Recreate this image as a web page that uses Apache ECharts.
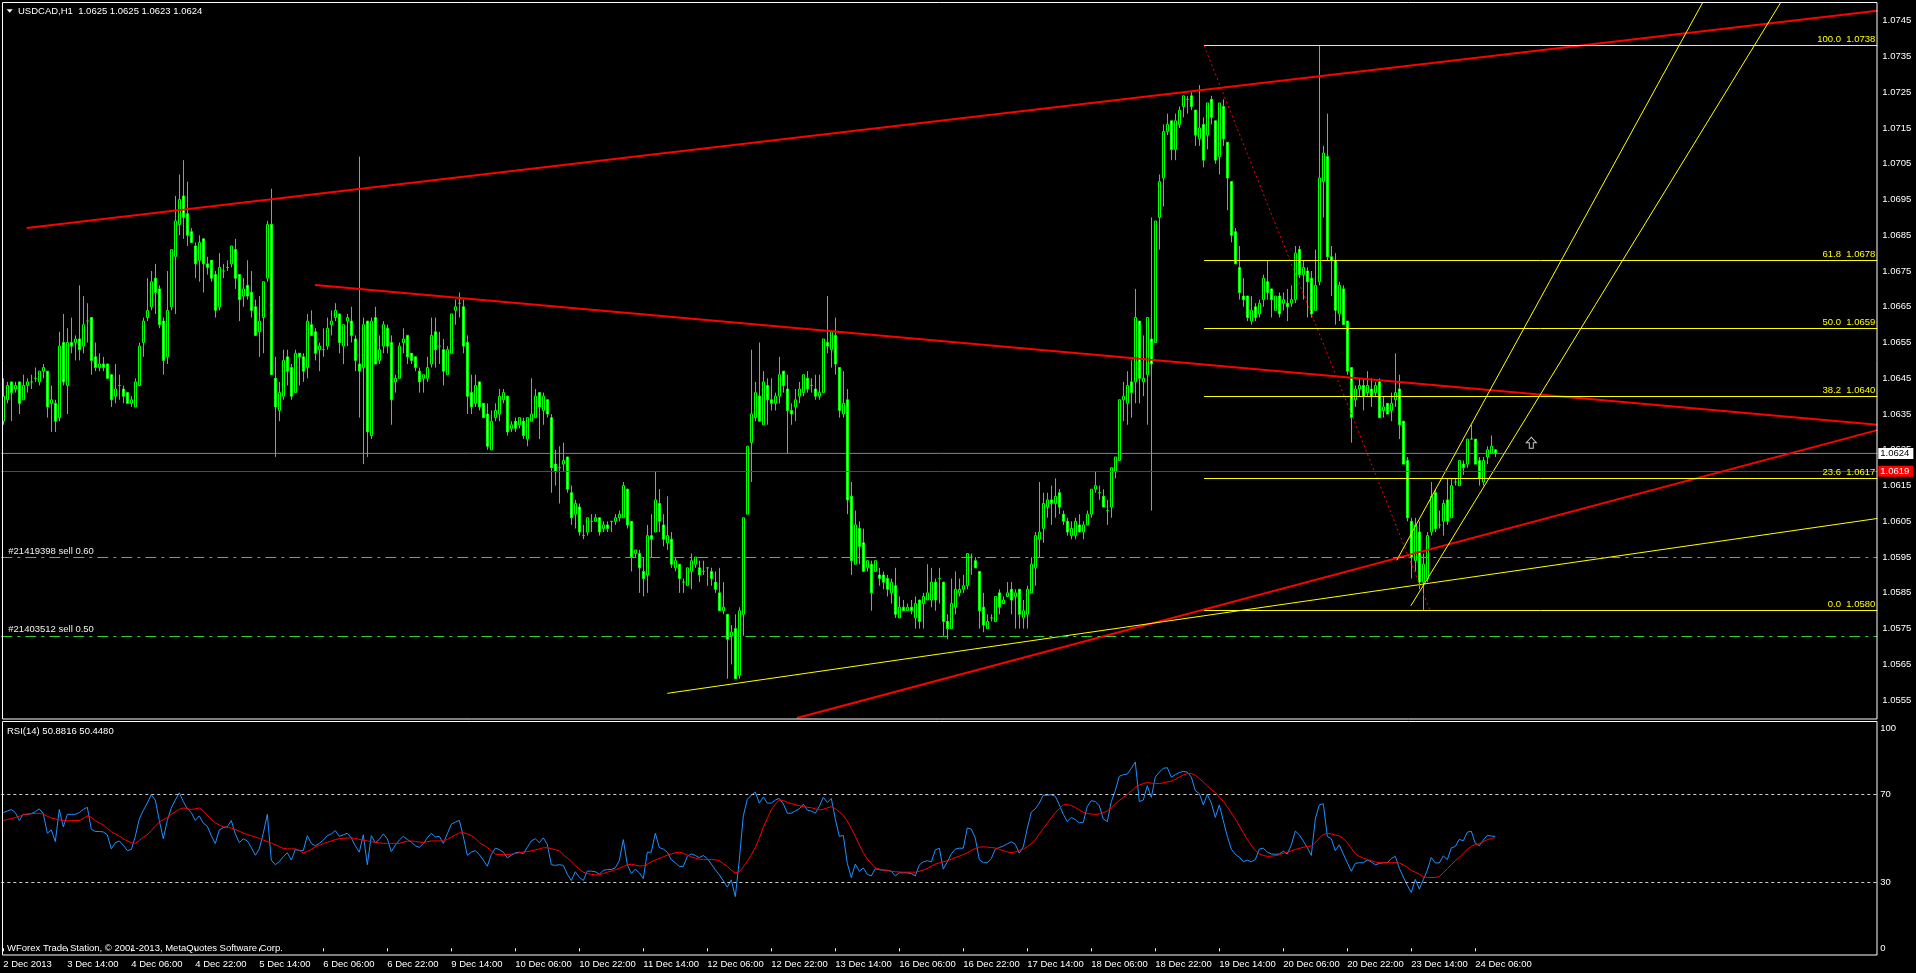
<!DOCTYPE html>
<html><head><meta charset="utf-8">
<script src="https://cdn.jsdelivr.net/npm/echarts@6/dist/echarts.min.js"></script>
<style>html,body{margin:0;padding:0;background:#000;overflow:hidden}#c{width:1916px;height:973px}</style>
</head><body><div id="c"></div>
<script>
// ---------- DATA (USDCAD H1) ----------
const opens = [
1.0633,1.0639,1.0644,1.0642,1.0644,1.0639,1.0643,1.0644,1.0645,1.0644,
1.0647,1.0647,1.0638,1.0638,1.0634,1.0655,1.0643,1.0655,1.0655,1.0656,
1.0654,1.0661,1.0662,1.0651,1.0648,1.0649,1.0649,1.0646,1.0640,1.0643,
1.0642,1.0641,1.0638,1.0637,1.0643,1.0655,1.0662,1.0665,1.0673,1.0670,
1.0661,1.0651,1.0665,1.0679,1.0688,1.0696,1.0691,1.0686,1.0682,1.0678,
1.0684,1.0677,1.0678,1.0674,1.0665,1.0675,1.0676,1.0677,1.0681,1.0674,
1.0668,1.0671,1.0669,1.0665,1.0658,1.0662,1.0673,1.0688,1.0645,1.0636,
1.0640,1.0651,1.0648,1.0641,1.0652,1.0651,1.0648,1.0660,1.0658,1.0653,
1.0653,1.0654,1.0660,1.0662,1.0663,1.0654,1.0661,1.0661,1.0656,1.0649,
1.0648,1.0661,1.0629,1.0662,1.0650,1.0654,1.0659,1.0655,1.0644,1.0645,
1.0655,1.0657,1.0652,1.0651,1.0647,1.0645,1.0645,1.0649,1.0658,1.0654,
1.0653,1.0646,1.0652,1.0664,1.0666,1.0665,1.0655,1.0641,1.0638,1.0644,
1.0638,1.0635,1.0625,1.0634,1.0635,1.0639,1.0640,1.0631,1.0633,1.0632,
1.0633,1.0628,1.0633,1.0634,1.0641,1.0636,1.0639,1.0634,1.0621,1.0620,
1.0621,1.0623,1.0613,1.0607,1.0609,1.0601,1.0602,1.0605,1.0605,1.0606,
1.0603,1.0604,1.0605,1.0605,1.0606,1.0606,1.0614,1.0605,1.0596,1.0596,
1.0591,1.0590,1.0601,1.0602,1.0610,1.0604,1.0599,1.0600,1.0592,1.0593,
1.0588,1.0587,1.0591,1.0593,1.0592,1.0591,1.0592,1.0591,1.0588,1.0585,
1.0580,1.0579,1.0573,1.0575,1.0562,1.0579,1.0607,1.0627,1.0634,1.0640,
1.0632,1.0643,1.0639,1.0638,1.0640,1.0647,1.0642,1.0636,1.0637,1.0640,
1.0641,1.0645,1.0643,1.0642,1.0640,1.0641,1.0655,1.0653,1.0657,1.0648,
1.0635,1.0639,1.0612,1.0593,1.0603,1.0599,1.0592,1.0593,1.0591,1.0590,
1.0590,1.0589,1.0585,1.0587,1.0578,1.0581,1.0580,1.0581,1.0578,1.0583,
1.0582,1.0583,1.0583,1.0588,1.0589,1.0588,1.0577,1.0575,1.0581,1.0585,
1.0586,1.0587,1.0595,1.0594,1.0591,1.0581,1.0575,1.0578,1.0577,1.0585,
1.0582,1.0584,1.0586,1.0584,1.0586,1.0578,1.0579,1.0585,1.0592,1.0600,
1.0603,1.0609,1.0611,1.0610,1.0613,1.0607,1.0605,1.0601,1.0601,1.0604,
1.0602,1.0604,1.0607,1.0614,1.0613,1.0612,1.0608,1.0609,1.0619,1.0622,
1.0639,1.0638,1.0644,1.0644,1.0661,1.0644,1.0646,1.0656,1.0655,1.0690,
1.0701,1.0714,1.0717,1.0709,1.0716,1.0721,1.0723,1.0724,1.0720,1.0712,
1.0716,1.0713,1.0723,1.0717,1.0707,1.0721,1.0711,1.0700,1.0686,1.0676,
1.0668,1.0668,1.0661,1.0665,1.0663,1.0667,1.0672,1.0670,1.0664,1.0668,
1.0666,1.0666,1.0666,1.0667,1.0681,1.0674,1.0675,1.0673,1.0664,1.0672,
1.0700,1.0707,1.0679,1.0678,1.0663,1.0670,1.0661,1.0648,1.0639,1.0642,
1.0643,1.0641,1.0642,1.0641,1.0644,1.0636,1.0638,1.0636,1.0639,1.0642,
1.0633,1.0622,1.0605,1.0594,1.0602,1.0588,1.0589,1.0602,1.0613,1.0604,
1.0605,1.0611,1.0606,1.0616,1.0615,1.0621,1.0621,1.0628,1.0628,1.0622,
1.0616,1.0623,1.0624,1.0625];
const closes = [
1.0640,1.0643,1.0641,1.0643,1.0638,1.0643,1.0644,1.0644,1.0645,1.0647,
1.0648,1.0637,1.0639,1.0633,1.0654,1.0644,1.0655,1.0654,1.0656,1.0653,
1.0660,1.0661,1.0650,1.0648,1.0649,1.0648,1.0645,1.0639,1.0642,1.0643,
1.0640,1.0638,1.0639,1.0644,1.0654,1.0661,1.0664,1.0672,1.0669,1.0660,
1.0650,1.0664,1.0681,1.0689,1.0695,1.0690,1.0685,1.0683,1.0677,1.0683,
1.0677,1.0676,1.0673,1.0664,1.0676,1.0675,1.0676,1.0682,1.0673,1.0667,
1.0670,1.0668,1.0664,1.0657,1.0661,1.0672,1.0688,1.0646,1.0637,1.0641,
1.0650,1.0647,1.0640,1.0652,1.0651,1.0647,1.0661,1.0657,1.0652,1.0654,
1.0653,1.0659,1.0661,1.0664,1.0655,1.0660,1.0662,1.0657,1.0650,1.0647,
1.0660,1.0630,1.0661,1.0649,1.0653,1.0660,1.0654,1.0639,1.0645,1.0654,
1.0656,1.0651,1.0650,1.0648,1.0644,1.0646,1.0648,1.0657,1.0653,1.0654,
1.0647,1.0653,1.0663,1.0665,1.0666,1.0654,1.0640,1.0637,1.0643,1.0637,
1.0634,1.0626,1.0633,1.0636,1.0640,1.0641,1.0630,1.0632,1.0631,1.0634,
1.0629,1.0634,1.0635,1.0640,1.0637,1.0640,1.0635,1.0620,1.0619,1.0620,
1.0622,1.0614,1.0606,1.0610,1.0602,1.0601,1.0606,1.0605,1.0606,1.0602,
1.0604,1.0603,1.0605,1.0606,1.0607,1.0615,1.0604,1.0595,1.0597,1.0592,
1.0589,1.0601,1.0600,1.0611,1.0605,1.0600,1.0601,1.0593,1.0594,1.0589,
1.0588,1.0592,1.0594,1.0595,1.0590,1.0591,1.0592,1.0589,1.0586,1.0580,
1.0581,1.0572,1.0574,1.0561,1.0580,1.0606,1.0626,1.0635,1.0641,1.0633,
1.0644,1.0639,1.0638,1.0640,1.0646,1.0643,1.0636,1.0635,1.0639,1.0642,
1.0646,1.0642,1.0643,1.0640,1.0641,1.0656,1.0654,1.0658,1.0649,1.0636,
1.0638,1.0611,1.0594,1.0604,1.0598,1.0591,1.0594,1.0585,1.0594,1.0589,
1.0588,1.0586,1.0588,1.0579,1.0581,1.0580,1.0581,1.0580,1.0582,1.0577,
1.0584,1.0585,1.0588,1.0583,1.0589,1.0577,1.0575,1.0582,1.0586,1.0586,
1.0587,1.0596,1.0595,1.0592,1.0580,1.0576,1.0577,1.0578,1.0584,1.0581,
1.0583,1.0585,1.0583,1.0585,1.0579,1.0580,1.0586,1.0593,1.0601,1.0602,
1.0610,1.0611,1.0610,1.0612,1.0609,1.0605,1.0602,1.0603,1.0605,1.0602,
1.0604,1.0607,1.0614,1.0615,1.0613,1.0609,1.0608,1.0620,1.0623,1.0639,
1.0640,1.0643,1.0641,1.0662,1.0645,1.0645,1.0662,1.0649,1.0689,1.0700,
1.0714,1.0716,1.0709,1.0717,1.0720,1.0724,1.0723,1.0721,1.0713,1.0715,
1.0706,1.0722,1.0718,1.0706,1.0722,1.0712,1.0701,1.0685,1.0677,1.0669,
1.0667,1.0662,1.0664,1.0662,1.0666,1.0673,1.0669,1.0667,1.0668,1.0663,
1.0667,1.0665,1.0667,1.0680,1.0674,1.0676,1.0672,1.0663,1.0671,1.0701,
1.0708,1.0679,1.0678,1.0664,1.0671,1.0660,1.0647,1.0634,1.0642,1.0643,
1.0640,1.0643,1.0640,1.0643,1.0634,1.0637,1.0635,1.0638,1.0641,1.0632,
1.0621,1.0606,1.0595,1.0604,1.0588,1.0593,1.0601,1.0612,1.0603,1.0604,
1.0610,1.0605,1.0615,1.0616,1.0622,1.0620,1.0628,1.0628,1.0621,1.0617,
1.0622,1.0625,1.0626,1.0624];
const lows = [
1.0632,1.0638,1.0633,1.0641,1.0635,1.0639,1.0641,1.0642,1.0644,1.0643,
1.0645,1.0634,1.0630,1.0630,1.0633,1.0643,1.0635,1.0652,1.0650,1.0650,
1.0652,1.0655,1.0646,1.0647,1.0647,1.0647,1.0645,1.0637,1.0638,1.0639,
1.0638,1.0638,1.0637,1.0637,1.0643,1.0651,1.0661,1.0664,1.0663,1.0659,
1.0646,1.0649,1.0664,1.0663,1.0685,1.0684,1.0682,1.0683,1.0673,1.0672,
1.0669,1.0674,1.0672,1.0662,1.0664,1.0673,1.0675,1.0676,1.0670,1.0661,
1.0665,1.0667,1.0662,1.0657,1.0651,1.0652,1.0672,1.0646,1.0623,1.0633,
1.0639,1.0643,1.0639,1.0641,1.0643,1.0644,1.0645,1.0657,1.0650,1.0647,
1.0651,1.0653,1.0657,1.0661,1.0652,1.0649,1.0654,1.0655,1.0647,1.0634,
1.0621,1.0623,1.0628,1.0649,1.0649,1.0652,1.0652,1.0632,1.0641,1.0645,
1.0652,1.0649,1.0649,1.0647,1.0641,1.0641,1.0644,1.0648,1.0648,1.0649,
1.0643,1.0646,1.0652,1.0660,1.0662,1.0652,1.0635,1.0635,1.0637,1.0636,
1.0634,1.0625,1.0625,1.0633,1.0633,1.0638,1.0629,1.0630,1.0630,1.0631,
1.0628,1.0626,1.0633,1.0634,1.0628,1.0632,1.0634,1.0613,1.0615,1.0610,
1.0619,1.0613,1.0604,1.0603,1.0601,1.0600,1.0601,1.0602,1.0605,1.0601,
1.0602,1.0602,1.0602,1.0604,1.0605,1.0606,1.0603,1.0591,1.0595,1.0585,
1.0584,1.0585,1.0595,1.0602,1.0602,1.0598,1.0597,1.0592,1.0591,1.0585,
1.0585,1.0587,1.0586,1.0592,1.0588,1.0590,1.0587,1.0587,1.0585,1.0580,
1.0579,1.0561,1.0565,1.0561,1.0561,1.0573,1.0607,1.0616,1.0633,1.0633,
1.0632,1.0632,1.0636,1.0636,1.0638,1.0641,1.0624,1.0632,1.0633,1.0638,
1.0640,1.0641,1.0641,1.0639,1.0639,1.0641,1.0652,1.0648,1.0646,1.0634,
1.0634,1.0607,1.0590,1.0593,1.0593,1.0591,1.0591,1.0580,1.0591,1.0587,
1.0586,1.0584,1.0582,1.0578,1.0578,1.0580,1.0580,1.0579,1.0575,1.0575,
1.0575,1.0583,1.0581,1.0580,1.0582,1.0573,1.0572,1.0575,1.0579,1.0584,
1.0585,1.0586,1.0590,1.0592,1.0575,1.0574,1.0575,1.0577,1.0577,1.0579,
1.0582,1.0584,1.0579,1.0575,1.0575,1.0575,1.0575,1.0585,1.0587,1.0595,
1.0599,1.0606,1.0604,1.0606,1.0607,1.0604,1.0601,1.0600,1.0600,1.0602,
1.0600,1.0604,1.0606,1.0613,1.0611,1.0609,1.0604,1.0606,1.0617,1.0622,
1.0633,1.0632,1.0634,1.0638,1.0638,1.0640,1.0632,1.0608,1.0655,1.0681,
1.0693,1.0713,1.0706,1.0706,1.0715,1.0718,1.0719,1.0720,1.0710,1.0710,
1.0704,1.0709,1.0716,1.0705,1.0702,1.0710,1.0692,1.0683,1.0677,1.0667,
1.0665,1.0661,1.0660,1.0661,1.0662,1.0665,1.0667,1.0662,1.0664,1.0662,
1.0664,1.0661,1.0665,1.0666,1.0673,1.0667,1.0662,1.0662,1.0664,1.0671,
1.0690,1.0678,1.0668,1.0660,1.0661,1.0660,1.0646,1.0627,1.0637,1.0640,
1.0636,1.0640,1.0637,1.0640,1.0634,1.0634,1.0635,1.0633,1.0637,1.0628,
1.0621,1.0605,1.0589,1.0591,1.0586,1.0580,1.0588,1.0601,1.0602,1.0603,
1.0601,1.0604,1.0606,1.0615,1.0615,1.0618,1.0620,1.0628,1.0621,1.0615,
1.0615,1.0621,1.0624,1.0623];
const highs = [
1.0645,1.0644,1.0644,1.0644,1.0644,1.0646,1.0645,1.0646,1.0648,1.0647,
1.0649,1.0647,1.0643,1.0639,1.0658,1.0663,1.0659,1.0662,1.0657,1.0671,
1.0668,1.0666,1.0662,1.0655,1.0652,1.0651,1.0649,1.0646,1.0649,1.0646,
1.0643,1.0641,1.0640,1.0645,1.0655,1.0662,1.0673,1.0675,1.0677,1.0671,
1.0662,1.0675,1.0681,1.0696,1.0702,1.0706,1.0700,1.0687,1.0683,1.0685,
1.0684,1.0679,1.0678,1.0675,1.0680,1.0677,1.0678,1.0682,1.0684,1.0674,
1.0673,1.0678,1.0675,1.0667,1.0668,1.0672,1.0689,1.0698,1.0651,1.0644,
1.0653,1.0653,1.0649,1.0653,1.0652,1.0652,1.0663,1.0664,1.0659,1.0655,
1.0659,1.0662,1.0664,1.0666,1.0663,1.0660,1.0663,1.0665,1.0657,1.0707,
1.0662,1.0661,1.0662,1.0665,1.0657,1.0661,1.0660,1.0657,1.0646,1.0655,
1.0659,1.0657,1.0652,1.0651,1.0648,1.0646,1.0651,1.0662,1.0662,1.0658,
1.0656,1.0654,1.0663,1.0667,1.0669,1.0667,1.0657,1.0646,1.0646,1.0644,
1.0638,1.0638,1.0636,1.0638,1.0642,1.0642,1.0640,1.0633,1.0634,1.0634,
1.0634,1.0634,1.0645,1.0642,1.0641,1.0641,1.0639,1.0635,1.0625,1.0626,
1.0627,1.0623,1.0615,1.0611,1.0610,1.0604,1.0606,1.0607,1.0607,1.0606,
1.0605,1.0605,1.0605,1.0607,1.0608,1.0616,1.0614,1.0605,1.0597,1.0597,
1.0595,1.0604,1.0607,1.0619,1.0614,1.0607,1.0612,1.0602,1.0595,1.0593,
1.0589,1.0592,1.0596,1.0595,1.0594,1.0594,1.0592,1.0592,1.0591,1.0592,
1.0588,1.0579,1.0576,1.0579,1.0581,1.0606,1.0626,1.0653,1.0644,1.0655,
1.0647,1.0645,1.0645,1.0641,1.0651,1.0647,1.0646,1.0638,1.0642,1.0644,
1.0646,1.0647,1.0645,1.0646,1.0646,1.0656,1.0668,1.0658,1.0662,1.0648,
1.0647,1.0642,1.0616,1.0608,1.0605,1.0603,1.0594,1.0594,1.0594,1.0592,
1.0591,1.0590,1.0589,1.0592,1.0584,1.0583,1.0582,1.0583,1.0584,1.0583,
1.0585,1.0593,1.0592,1.0589,1.0592,1.0588,1.0579,1.0589,1.0591,1.0589,
1.0590,1.0596,1.0596,1.0595,1.0591,1.0585,1.0579,1.0579,1.0584,1.0586,
1.0584,1.0588,1.0588,1.0586,1.0586,1.0583,1.0587,1.0595,1.0602,1.0616,
1.0613,1.0613,1.0615,1.0617,1.0614,1.0608,1.0606,1.0605,1.0606,1.0607,
1.0605,1.0608,1.0614,1.0619,1.0615,1.0614,1.0611,1.0620,1.0623,1.0639,
1.0644,1.0647,1.0650,1.0670,1.0661,1.0657,1.0662,1.0690,1.0689,1.0702,
1.0716,1.0719,1.0717,1.0719,1.0721,1.0724,1.0724,1.0725,1.0720,1.0727,
1.0718,1.0722,1.0724,1.0717,1.0722,1.0723,1.0711,1.0700,1.0687,1.0682,
1.0673,1.0668,1.0668,1.0666,1.0667,1.0674,1.0678,1.0670,1.0668,1.0669,
1.0669,1.0670,1.0671,1.0682,1.0682,1.0678,1.0676,1.0675,1.0681,1.0738,
1.0710,1.0719,1.0682,1.0680,1.0672,1.0671,1.0661,1.0648,1.0643,1.0645,
1.0645,1.0647,1.0645,1.0644,1.0645,1.0640,1.0638,1.0641,1.0652,1.0646,
1.0633,1.0623,1.0606,1.0606,1.0605,1.0596,1.0602,1.0616,1.0614,1.0608,
1.0611,1.0617,1.0617,1.0617,1.0622,1.0622,1.0628,1.0632,1.0628,1.0623,
1.0623,1.0626,1.0629,1.0625];

// RSI(14) and its signal line
const rsiValues = [
61.7,62.4,63.1,61.7,58.1,60.9,60.9,61.2,62.1,63.4,
61.2,52.3,53.8,48.5,63.1,55.2,60.9,60.9,60.9,61.7,
63.1,64.1,54.1,53.1,53.1,52.9,51.6,45.2,48.0,48.8,
46.9,44.4,44.9,50.9,58.8,62.7,66.0,69.8,67.4,58.1,
49.8,58.1,63.8,67.4,70.7,66.7,63.5,61.7,58.1,60.2,
56.9,55.5,51.2,47.6,53.8,54.9,55.2,58.1,52.0,48.0,
49.8,48.8,45.9,42.3,45.2,52.3,60.9,40.1,38.0,39.4,
41.6,43.4,40.1,44.9,44.4,44.4,51.2,47.7,46.6,47.7,
49.2,51.2,52.0,53.5,50.9,51.6,52.3,50.2,46.6,43.7,
51.6,38.0,51.2,48.0,49.5,52.0,49.8,44.0,46.9,49.2,
50.9,49.5,48.3,46.6,45.9,47.6,50.2,52.3,50.6,50.9,
47.7,52.0,56.4,57.4,58.1,50.9,42.3,43.7,44.4,42.6,
40.1,37.3,42.6,45.5,44.9,43.7,41.1,42.3,43.4,43.7,
43.0,45.9,48.8,49.8,48.0,50.2,47.3,38.0,37.7,38.0,
37.7,33.7,30.8,34.8,32.3,30.8,35.1,35.1,34.8,33.7,
35.4,35.8,35.8,36.6,39.8,49.4,38.0,34.0,36.0,34.3,
31.7,43.7,43.7,52.3,45.8,45.1,43.7,40.3,38.9,37.2,
37.2,41.8,42.9,42.2,41.2,42.2,40.8,38.3,35.7,33.4,
30.7,27.8,31.1,23.5,40.1,60.2,67.7,69.6,71.0,66.0,
68.8,66.0,66.0,67.4,68.1,65.7,61.4,61.4,62.4,63.4,
65.5,62.8,62.4,61.4,64.5,68.6,66.3,68.1,58.8,50.9,
51.3,38.6,32.1,38.3,35.0,36.5,33.6,32.9,36.2,35.7,
35.5,35.5,35.0,32.9,34.3,34.3,34.3,34.0,32.9,37.9,
39.3,39.8,39.3,44.7,45.5,36.0,39.3,42.9,45.1,45.5,
45.5,54.7,54.2,50.1,40.3,38.9,38.9,40.8,45.1,45.8,
46.5,47.5,48.4,47.3,43.2,46.1,54.5,61.9,63.4,66.0,
69.6,69.6,69.8,69.1,65.2,60.9,57.6,59.5,58.5,57.0,
57.3,64.5,67.1,66.7,64.8,58.8,57.6,66.7,71.7,78.2,
78.9,79.2,81.8,84.7,66.7,67.4,73.9,68.6,77.8,80.1,
81.8,82.1,77.8,78.9,79.9,80.4,80.1,77.8,71.7,70.3,
65.2,70.0,66.0,59.5,65.2,58.0,50.9,45.1,42.7,41.5,
39.3,40.1,39.3,40.3,45.1,45.5,43.7,42.9,42.7,42.9,
44.1,42.9,47.0,53.3,51.6,48.7,45.8,42.2,58.8,65.2,
65.7,50.9,49.8,44.4,47.0,42.9,38.9,35.0,38.6,38.9,
38.9,40.1,39.3,37.9,38.6,38.9,38.9,40.8,41.8,36.4,
32.4,28.6,25.4,31.3,26.9,31.2,35.5,41.3,38.8,38.8,
42.0,40.3,45.6,46.3,49.5,48.9,52.8,53.2,47.7,46.6,
49.2,51.3,51.0,50.9];
const rsiSignal = [
58.1,58.5,59.0,59.4,60.0,60.6,61.0,61.2,61.3,61.4,
61.0,60.0,59.2,58.8,58.4,58.1,58.0,58.0,58.1,58.1,
59.0,60.2,59.5,58.0,57.0,56.0,54.5,53.0,52.0,51.0,
49.8,48.8,48.0,47.7,49.0,50.5,51.6,53.5,55.5,57.4,
58.5,59.5,60.9,62.0,63.2,63.8,63.5,63.1,63.4,63.8,
62.5,60.5,58.6,57.0,56.0,55.2,55.0,54.6,54.0,53.2,
52.4,51.8,51.2,50.6,50.0,49.2,48.5,47.8,47.0,46.3,
45.4,45.2,45.2,45.2,44.5,43.3,44.0,45.0,46.0,46.8,
47.6,48.2,48.8,49.4,49.8,50.0,50.1,50.2,49.9,49.5,
49.1,48.8,48.5,48.2,47.9,47.7,47.7,47.7,47.7,47.7,
48.2,48.7,48.8,48.6,48.3,48.0,48.5,48.8,48.8,48.8,
48.8,49.5,50.5,51.6,52.4,52.6,52.0,51.2,50.0,48.0,
47.0,45.8,44.3,42.8,42.6,42.6,42.6,42.8,43.1,43.4,
43.7,44.0,44.3,44.7,45.2,45.7,45.7,45.3,44.8,44.4,
42.5,41.0,39.4,37.5,36.0,34.6,34.0,33.6,33.4,33.4,
34.0,34.6,35.1,35.7,36.4,37.2,38.0,38.2,37.8,37.4,
37.5,38.3,39.3,40.1,40.8,41.6,42.3,42.9,43.4,43.7,
43.2,42.4,41.5,41.0,40.5,40.3,40.3,40.3,40.3,39.8,
38.5,37.2,35.5,34.2,34.8,37.0,39.5,42.5,45.8,50.0,
55.0,59.0,63.0,65.5,67.4,67.2,66.3,65.8,65.3,64.8,
64.4,64.1,63.9,63.4,62.9,63.2,63.8,64.4,63.5,62.0,
60.4,57.8,54.5,51.0,47.0,43.5,40.5,38.5,36.5,36.0,
35.6,35.3,35.0,34.8,34.7,34.6,34.6,34.6,34.6,35.0,
35.5,36.3,37.3,38.3,38.8,39.3,39.8,40.5,41.2,41.9,
42.6,43.4,44.5,45.3,46.0,46.1,46.0,45.8,45.6,45.0,
44.4,43.8,43.4,43.8,44.5,45.1,46.2,47.6,49.4,52.0,
54.4,56.8,59.3,61.6,63.5,65.2,65.3,64.9,64.0,62.9,
61.8,61.3,61.0,60.9,61.0,61.7,62.4,63.8,65.6,67.2,
68.6,70.0,71.5,73.2,74.2,74.9,75.3,75.1,74.9,74.9,
75.2,75.6,76.0,76.8,77.8,78.8,79.4,79.5,78.6,77.2,
75.6,73.8,72.2,70.8,68.7,66.8,64.3,61.5,58.8,55.7,
52.6,49.4,46.8,44.4,42.9,42.2,41.8,41.9,42.1,42.5,
43.2,43.7,44.3,44.9,45.4,45.9,46.3,46.5,48.0,50.1,
51.7,52.3,52.0,51.5,51.0,49.9,48.0,45.5,42.9,41.8,
41.0,40.3,39.8,39.2,38.9,38.9,38.9,38.9,38.9,38.8,
37.9,36.8,35.4,34.6,33.7,32.5,32.2,32.2,32.2,32.6,
34.3,36.2,38.0,39.8,41.3,43.2,44.9,46.3,47.2,47.5,
48.5,49.4,49.9,50.4];
const rsiLevels = [70, 30];
const rsiTicks = [0, 30, 70, 100];
const rsiCaption = 'RSI(14) 50.8816 50.4480';

// axes
const xTickLabels = ['2 Dec 2013','3 Dec 14:00','4 Dec 06:00','4 Dec 22:00','5 Dec 14:00','6 Dec 06:00',
  '6 Dec 22:00','9 Dec 14:00','10 Dec 06:00','10 Dec 22:00','11 Dec 14:00','12 Dec 06:00','12 Dec 22:00',
  '13 Dec 14:00','16 Dec 06:00','16 Dec 22:00','17 Dec 14:00','18 Dec 06:00','18 Dec 22:00','19 Dec 14:00',
  '20 Dec 06:00','20 Dec 22:00','23 Dec 14:00','24 Dec 06:00'];
const barsPerLabel = 16;
const slotCount = 469;
const priceTicks = ['1.0745','1.0735','1.0725','1.0715','1.0705','1.0695','1.0685','1.0675','1.0665','1.0655',
  '1.0645','1.0635','1.0625','1.0615','1.0605','1.0595','1.0585','1.0575','1.0565','1.0555'];

// chart objects (bar index, price)
const trendUpperRed = [[5.85, 1.06870], [468.5, 1.07478]];
const trendMidRed = [[77.9, 1.06711], [468.5, 1.06320]];
const trendLowRed = [[198.4, 1.05500], [468.5, 1.06305]];
const trendLowYellow = [[166.0, 1.05569], [468.5, 1.06058]];
const channelA = [[348.35, 1.05941], [424.8, 1.07500]];
const channelB = [[351.9, 1.05814], [444.3, 1.07500]];
const fibBase = [[300.2, 1.0738], [356.7, 1.0580]];
const fibPercents = ['100.0', '61.8', '50.0', '38.2', '23.6', '0.0'];
const fibPrices = [1.0738, 1.0678, 1.0659, 1.0640, 1.0617, 1.0580];
const fibStartBar = 300.2, fibEndBar = 468.5;
const arrowMarks = [[382, 1.0627]];
const bidPrice = 1.0624;
const redLevel = 1.0619;
const orderTickets = ['#21419398 sell 0.60', '#21403512 sell 0.50'];
const orderPrices = [1.0595, 1.0573];
const levelSpan = [[-0.5, 1.0624], [468.5, 1.0624]];
const symbolName = 'USDCAD,H1';
const footerText = 'WForex Trade Station, \u00A9 2001-2013, MetaQuotes Software Corp.';

// ---------- CHART ----------
const FONT = 'Liberation Sans';
const FS = 9.5;
const slots = Array.from({length: slotCount}, (_, i) => String(i));
const candles = opens.map((o, i) => [o, closes[i], lows[i], highs[i]]);
const last = opens.length - 1;
const titleText = symbolName + '  ' + [opens[last], highs[last], lows[last], closes[last]].map(v => v.toFixed(4)).join(' ');
const tickShown = (i) => i % barsPerLabel === 0 && i / barsPerLabel < xTickLabels.length;

function trend(data, color, width, type) {
  return {type: 'line', xAxisIndex: 1, yAxisIndex: 0, data: data, symbol: 'none', silent: true, z: 4,
    lineStyle: {color: color, width: width, type: type || 'solid'}};
}
function axisBox(price, bg, fg) {
  return {show: true, position: 'end', distance: 1, formatter: price.toFixed(4), color: fg,
    backgroundColor: bg, padding: [1, 4, 1, 2], lineHeight: 9, fontSize: FS, fontFamily: FONT};
}

const chart = echarts.init(document.getElementById('c'), null, {width: 1916, height: 973});

const fibSeries = trend(fibBase, '#ff0000', 1, [2, 3]);
fibSeries.markLine = {
  symbol: ['none', 'none'], silent: true, animation: false, precision: 5,
  lineStyle: {color: '#ffff00', width: 1, type: 'solid'},
  label: {show: true, position: 'insideEndTop', distance: [2, 1], color: '#ffff00', fontSize: FS, fontFamily: FONT,
    formatter: (p) => fibPercents[p.dataIndex] + '  ' + fibPrices[p.dataIndex].toFixed(4)},
  data: fibPrices.map((p) => [{coord: [fibStartBar, p]}, {coord: [fibEndBar, p]}])
};

// grey bid line (series) carrying the other horizontal levels as markLines
const levelSeries = trend(levelSpan, '#778899', 1);
levelSeries.z = 2;
levelSeries.endLabel = axisBox(bidPrice, '#ffffff', '#000000');
levelSeries.markLine = {
  symbol: ['none', 'none'], silent: true, animation: false, precision: 5,
  data: [
    {yAxis: redLevel, lineStyle: {color: '#ff0000', width: 1, type: 'solid'}, label: axisBox(redLevel, '#ff0000', '#ffffff')},
    ...orderPrices.map((p, k) => ({yAxis: p, lineStyle: {color: '#32cd32', width: 1, type: [11, 5, 3, 5]},
      label: {show: true, position: 'insideStartTop', distance: [7, 1], formatter: orderTickets[k],
        color: '#f0f0f0', fontSize: FS, fontFamily: FONT}}))
  ]
};

const option = {
  backgroundColor: '#000',
  animation: false,
  textStyle: {fontFamily: FONT},
  grid: [
    {left: 1.3, width: 1876, top: 2.82, height: 715.2},
    {left: 1.3, width: 1876, top: 728.3, height: 220}
  ],
  xAxis: [
    {type: 'category', gridIndex: 0, data: slots, boundaryGap: true, show: false},
    {type: 'value', gridIndex: 0, min: -0.5, max: slotCount - 0.5, show: false},
    {type: 'category', gridIndex: 1, data: slots, boundaryGap: true, position: 'bottom', offset: 6.7,
      axisLine: {show: false},
      axisTick: {show: true, alignWithLabel: true, length: 3, interval: tickShown, lineStyle: {color: '#ffffff'}},
      axisLabel: {show: true, interval: tickShown, align: 'left', margin: 4, color: '#ffffff', fontSize: FS, fontFamily: FONT,
        formatter: (v, i) => xTickLabels[i / barsPerLabel] || ''},
      splitLine: {show: false}}
  ],
  yAxis: [
    {type: 'value', gridIndex: 0, position: 'right', min: 1.0550, max: 1.0750, interval: 0.0005,
      axisLine: {show: false}, axisTick: {show: false}, splitLine: {show: false},
      axisLabel: {margin: 5, color: '#ffffff', fontSize: FS, fontFamily: FONT,
        formatter: (v) => priceTicks.includes(v.toFixed(4)) ? v.toFixed(4) : ''}},
    {type: 'value', gridIndex: 1, position: 'right', min: 0, max: 100, interval: 10,
      axisLine: {show: false}, axisTick: {show: false}, splitLine: {show: false},
      axisLabel: {margin: 3, color: '#ffffff', fontSize: FS, fontFamily: FONT,
        formatter: (v) => rsiTicks.includes(Math.round(v)) ? String(Math.round(v)) : ''}}
  ],
  series: [
    levelSeries,
    {type: 'candlestick', name: 'USDCAD', xAxisIndex: 0, yAxisIndex: 0, data: candles, barWidth: 2, silent: true, z: 3,
      itemStyle: {color: '#000000', color0: '#ffffff', borderColor: '#00ff00', borderColor0: '#00ff00',
        borderColorDoji: '#00ff00', borderWidth: 1}},
    trend(trendUpperRed, '#ff0000', 2),
    trend(trendMidRed, '#ff0000', 2),
    trend(trendLowRed, '#ff0000', 2),
    trend(trendLowYellow, '#ffff00', 1),
    trend(channelA, '#ffff00', 1),
    trend(channelB, '#ffff00', 1),
    fibSeries,
    {type: 'scatter', xAxisIndex: 1, yAxisIndex: 0, data: arrowMarks, silent: true, z: 6,
      symbol: 'path://M5,0 L10,5.5 L7,5.5 L7,11 L3,11 L3,5.5 L0,5.5 Z', symbolSize: [10, 11],
      itemStyle: {color: '#000000', borderColor: '#ffffff', borderWidth: 1}},
    {type: 'line', name: 'RSI', xAxisIndex: 2, yAxisIndex: 1, data: rsiValues, symbol: 'none', silent: true,
      lineStyle: {color: '#1e90ff', width: 1},
      markLine: {symbol: ['none', 'none'], silent: true, animation: false, label: {show: false},
        lineStyle: {color: '#d0d0d0', width: 1, type: [3, 3]},
        data: rsiLevels.map((v) => ({yAxis: v}))}},
    {type: 'line', name: 'Signal', xAxisIndex: 2, yAxisIndex: 1, data: rsiSignal, symbol: 'none', silent: true,
      lineStyle: {color: '#ff0000', width: 1}}
  ],
  graphic: [
    {type: 'rect', silent: true, z: 100, shape: {x: 2.5, y: 2.5, width: 1874.5, height: 716.5},
      style: {fill: 'none', stroke: '#ffffff', lineWidth: 1}},
    {type: 'rect', silent: true, z: 100, shape: {x: 2.5, y: 721.5, width: 1874.5, height: 233.5},
      style: {fill: 'none', stroke: '#ffffff', lineWidth: 1}},
    {type: 'polygon', silent: true, z: 100, shape: {points: [[6.7, 9.3], [12.7, 9.3], [9.7, 12.7]]},
      style: {fill: '#ffffff'}},
    {type: 'text', silent: true, z: 100, x: 18, y: 11,
      style: {text: titleText, fill: '#ffffff', fontSize: FS, fontFamily: FONT, verticalAlign: 'middle', align: 'left'}},
    {type: 'text', silent: true, z: 100, x: 7, y: 731,
      style: {text: rsiCaption, fill: '#ffffff', fontSize: FS, fontFamily: FONT, verticalAlign: 'middle', align: 'left'}},
    {type: 'text', silent: true, z: 100, x: 7, y: 948,
      style: {text: footerText, fill: '#ffffff', fontSize: FS, fontFamily: FONT, verticalAlign: 'middle', align: 'left'}}
  ]
};
chart.setOption(option);
</script>
</body></html>
